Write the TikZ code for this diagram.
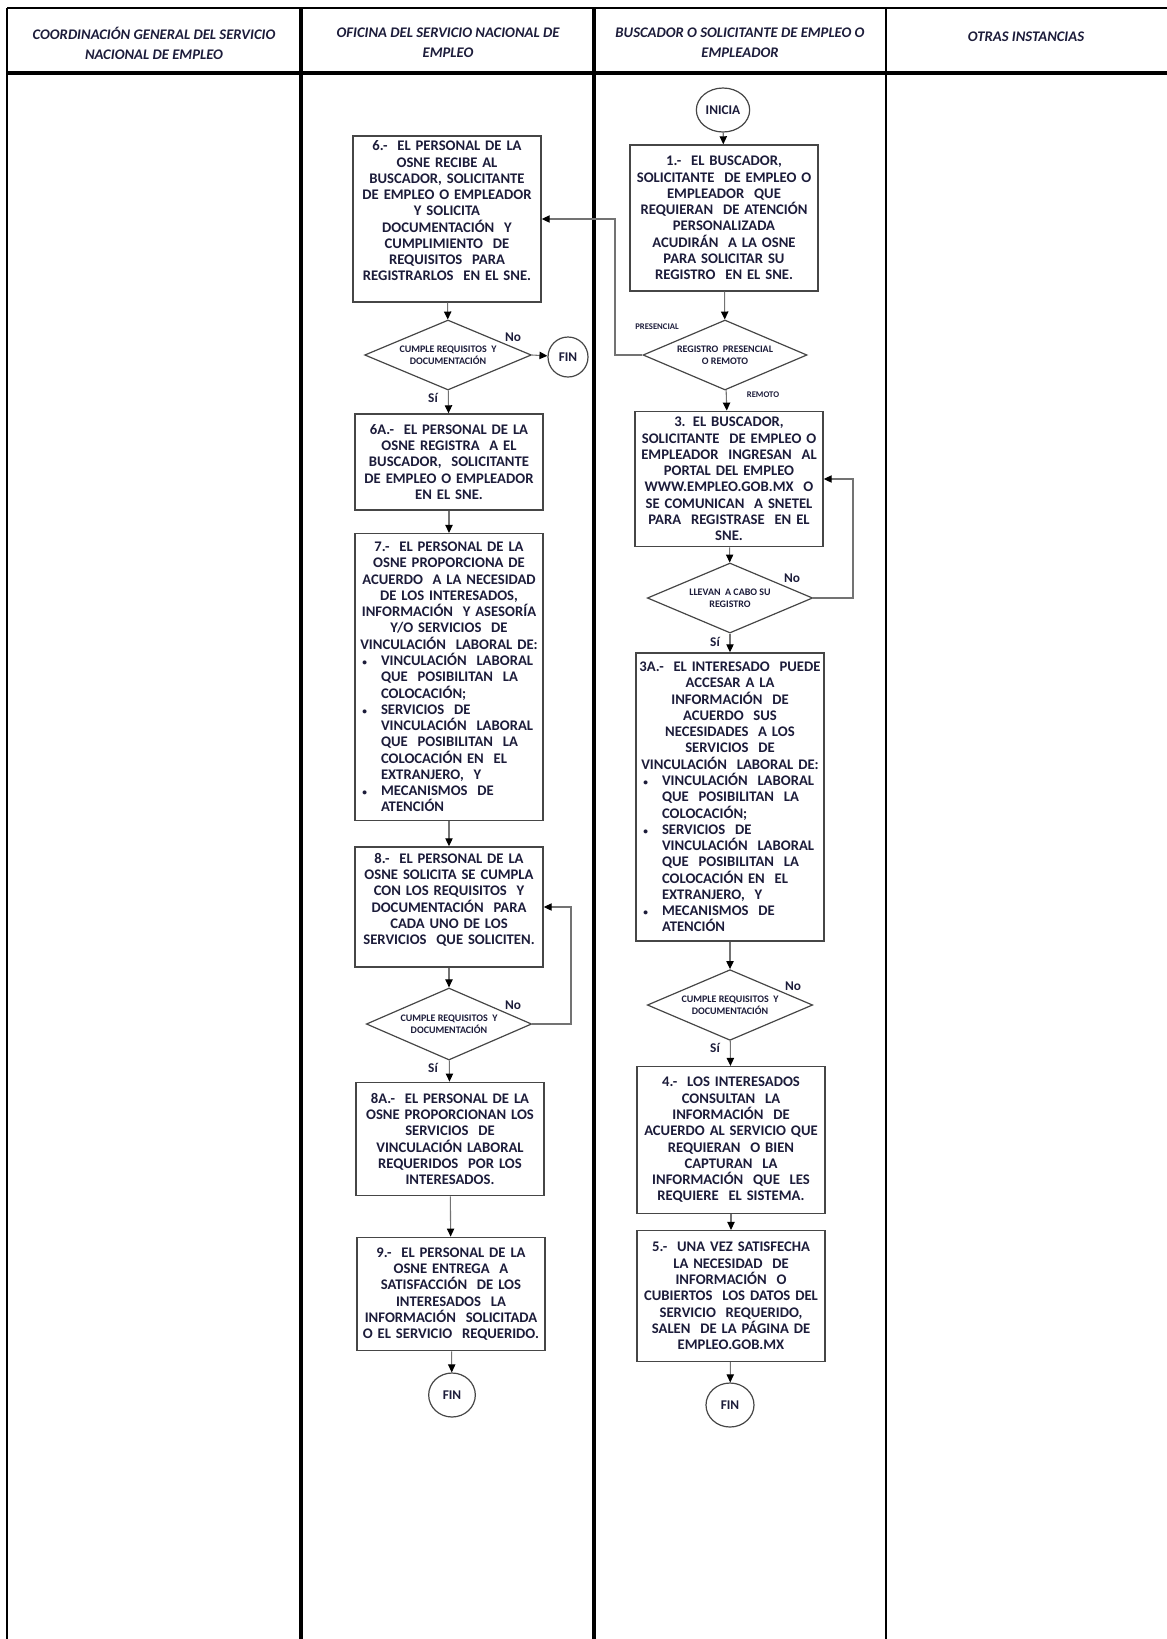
\documentclass[tikz,border=0pt]{standalone}
\usepackage{fontspec}
\setmainfont{Carlito}
\usetikzlibrary{positioning}
\usetikzlibrary{shapes.geometric}
\usetikzlibrary{arrows.meta}

\definecolor{ink}{RGB}{28,28,58}
\definecolor{frame}{RGB}{70,70,70}

% bullet lines inside the long boxes
\newcommand{\bul}[1]{\makebox[136pt][l]{\hspace{3pt}\makebox[14pt][l]{\fontsize{7}{7}\selectfont\textbullet}#1}}
\newcommand{\sig}[1]{\makebox[136pt][l]{\hspace{17pt}#1}}

\begin{document}
\begin{tikzpicture}[x=0.75pt,y=-0.75pt,
  head/.style={text=ink,align=center,font=\fontsize{11}{15}\selectfont\bfseries\itshape},
  proc/.style={draw=frame,line width=1.1pt,fill=white,text=ink,align=center,
    text width=137pt,inner xsep=2pt,inner ysep=2pt,
    font=\fontsize{11}{12.2}\selectfont\bfseries},
  cond/.style={diamond,aspect=2.4,draw=frame,line width=0.9pt,fill=white,text=ink,align=center,
    inner sep=0pt,font=\fontsize{7.5}{9}\selectfont\bfseries},
  term/.style={ellipse,draw=frame,line width=0.9pt,fill=white,text=ink,inner sep=0pt,
    font=\fontsize{10}{12}\selectfont\bfseries},
  flow/.style={draw=black!55,line width=0.8pt,-{Triangle[length=6pt,width=5.5pt,color=black]}},
  tag/.style={text=ink,font=\fontsize{10}{12}\selectfont\bfseries},
  mini/.style={text=ink,font=\fontsize{6.5}{8}\selectfont\bfseries}]
\useasboundingbox (0,0) rectangle (1167,1639);

% swimlanes
\draw[line width=1.1pt] (7,8) -- (1167,8);
\draw[line width=2.4pt] (7,73) -- (1167,73);
\draw[line width=1.5pt] (7,8) -- (7,1639);
\draw[line width=2.4pt] (301,8) -- (301,1639);
\draw[line width=2.8pt] (594,8) -- (594,1639);
\draw[line width=1.8pt] (886,8) -- (886,1639);

\node[head] (h1) at (154,43) {COORDINACIÓN GENERAL DEL SERVICIO\\NACIONAL DE EMPLEO};
\node[head] (h2) at (448,43) {OFICINA DEL SERVICIO NACIONAL DE\\EMPLEO};
\node[head] (h3) at (740,43) {BUSCADOR O SOLICITANTE DE EMPLEO O\\EMPLEADOR};
\node[head] (h4) at (1026,37) {OTRAS INSTANCIAS};

% buscador o solicitante
\node[term,minimum width=40pt,minimum height=33pt] (inicia) at (723,110) {INICIA};
\node[proc,minimum height=109.5pt] (b1) at (724,218) {1.-\ \ EL BUSCADOR,\\SOLICITANTE\ \ DE EMPLEO O\\EMPLEADOR\ \ QUE\\REQUIERAN\ \ DE ATENCIÓN\\PERSONALIZADA\\ACUDIRÁN\ \ A LA OSNE\\PARA SOLICITAR SU\\REGISTRO\ \ EN EL SNE.};
\node[cond,minimum width=123pt,minimum height=52.5pt] (d1) at (725,355) {REGISTRO\ \ PRESENCIAL\\O REMOTO};
\node[proc,minimum height=101.5pt] (b3) at (729,479) {3. EL BUSCADOR,\\SOLICITANTE\ \ DE EMPLEO O\\EMPLEADOR\ \ INGRESAN\ \ AL\\PORTAL DEL EMPLEO\\WWW.EMPLEO.GOB.MX\ \ O\\SE COMUNICAN\ \ A SNETEL\\PARA\ \ REGISTRASE\ \ EN EL\\SNE.};
\node[cond,minimum width=124pt,minimum height=52.5pt] (d3) at (730,598) {LLEVAN\ \ A CABO SU\\REGISTRO};
\node[proc,minimum height=216pt] (b3a) at (730,797) {3A.-\ \ EL INTERESADO\ \ PUEDE\\ACCESAR A LA\\INFORMACIÓN\ \ DE\\ACUERDO\ \ SUS\\NECESIDADES\ \ A LOS\\SERVICIOS\ \ DE\\VINCULACIÓN\ \ LABORAL DE:\\
  \bul{VINCULACIÓN\ \ LABORAL}\\\sig{QUE\ \ POSIBILITAN\ \ LA}\\\sig{COLOCACIÓN;}\\
  \bul{SERVICIOS\ \ DE}\\\sig{VINCULACIÓN\ \ LABORAL}\\\sig{QUE\ \ POSIBILITAN\ \ LA}\\\sig{COLOCACIÓN EN\ \ EL}\\\sig{EXTRANJERO,\ \ Y}\\
  \bul{MECANISMOS\ \ DE}\\\sig{ATENCIÓN}};
\node[cond,minimum width=124pt,minimum height=53pt] (d4) at (730,1005) {CUMPLE REQUISITOS\ \ Y\\DOCUMENTACIÓN};
\node[proc,minimum height=110pt] (b4) at (731,1140) {4.-\ \ LOS INTERESADOS\\CONSULTAN\ \ LA\\INFORMACIÓN\ \ DE\\ACUERDO AL SERVICIO QUE\\REQUIERAN\ \ O BIEN\\CAPTURAN\ \ LA\\INFORMACIÓN\ \ QUE\ \ LES\\REQUIERE\ \ EL SISTEMA.};
\node[proc,minimum height=98pt] (b5) at (731,1296) {5.-\ \ UNA VEZ SATISFECHA\\LA NECESIDAD\ \ DE\\INFORMACIÓN\ \ O\\CUBIERTOS\ \ LOS DATOS DEL\\SERVICIO\ \ REQUERIDO,\\SALEN\ \ DE LA PÁGINA DE\\EMPLEO.GOB.MX};
\node[term,minimum width=36pt,minimum height=33pt] (fin3) at (730,1405) {FIN};

% oficina del servicio nacional de empleo
\node[proc,minimum height=124.5pt] (b6) at (447,219) {6.-\ \ EL PERSONAL DE LA\\OSNE RECIBE AL\\BUSCADOR, SOLICITANTE\\DE EMPLEO O EMPLEADOR\\Y SOLICITA\\DOCUMENTACIÓN\ \ Y\\CUMPLIMIENTO\ \ DE\\REQUISITOS\ \ PARA\\REGISTRARLOS\ \ EN EL SNE.\\\mbox{}};
\node[cond,minimum width=125pt,minimum height=52.5pt] (d6) at (448,355) {CUMPLE REQUISITOS\ \ Y\\DOCUMENTACIÓN};
\node[term,minimum width=30pt,minimum height=30pt] (fin1) at (568,357) {FIN};
\node[proc,minimum height=72pt] (b6a) at (449,462) {6A.-\ \ EL PERSONAL DE LA\\OSNE REGISTRA\ \ A EL\\BUSCADOR,\ \ SOLICITANTE\\DE EMPLEO O EMPLEADOR\\EN EL SNE.};
\node[proc,minimum height=215pt] (b7) at (449,677) {7.-\ \ EL PERSONAL DE LA\\OSNE PROPORCIONA DE\\ACUERDO\ \ A LA NECESIDAD\\DE LOS INTERESADOS,\\INFORMACIÓN\ \ Y ASESORÍA\\Y/O SERVICIOS\ \ DE\\VINCULACIÓN\ \ LABORAL DE:\\
  \bul{VINCULACIÓN\ \ LABORAL}\\\sig{QUE\ \ POSIBILITAN\ \ LA}\\\sig{COLOCACIÓN;}\\
  \bul{SERVICIOS\ \ DE}\\\sig{VINCULACIÓN\ \ LABORAL}\\\sig{QUE\ \ POSIBILITAN\ \ LA}\\\sig{COLOCACIÓN EN\ \ EL}\\\sig{EXTRANJERO,\ \ Y}\\
  \bul{MECANISMOS\ \ DE}\\\sig{ATENCIÓN}};
\node[proc,minimum height=90pt] (b8) at (449,907) {8.-\ \ EL PERSONAL DE LA\\OSNE SOLICITA SE CUMPLA\\CON LOS REQUISITOS\ \ Y\\DOCUMENTACIÓN\ \ PARA\\CADA UNO DE LOS\\SERVICIOS\ \ QUE SOLICITEN.\\\mbox{}};
\node[cond,minimum width=124pt,minimum height=54pt] (d8) at (449,1024) {CUMPLE REQUISITOS\ \ Y\\DOCUMENTACIÓN};
\node[proc,minimum height=85pt] (b8a) at (450,1139) {8A.-\ \ EL PERSONAL DE LA\\OSNE PROPORCIONAN LOS\\SERVICIOS\ \ DE\\VINCULACIÓN LABORAL\\REQUERIDOS\ \ POR LOS\\INTERESADOS.};
\node[proc,minimum height=85pt] (b9) at (451,1294) {9.-\ \ EL PERSONAL DE LA\\OSNE ENTREGA\ \ A\\SATISFACCIÓN\ \ DE LOS\\INTERESADOS\ \ LA\\INFORMACIÓN\ \ SOLICITADA\\O EL SERVICIO\ \ REQUERIDO.};
\node[term,minimum width=35pt,minimum height=33pt] (fin2) at (452,1395) {FIN};

% labels
\node[mini] (pres) at (657,327) {PRESENCIAL};
\node[mini] (remo) at (763,395) {REMOTO};
\node[tag] (no1) at (513,337) {No};
\node[tag] (si1) at (433,398) {Sí};
\node[tag] (no3) at (792,578) {No};
\node[tag] (si3) at (715,642) {Sí};
\node[tag] (no4) at (793,986) {No};
\node[tag] (si4) at (715,1048) {Sí};
\node[tag] (no8) at (513,1005) {No};
\node[tag] (si8) at (433,1068) {Sí};

% connectors
\coordinate (bendA) at (615,355);
\coordinate (bendB) at (853,598);
\coordinate (bendC) at (571,1024);
\draw[flow] (inicia) -- (b1);
\draw[flow] (b1) -- (d1);
\draw[flow] (d1.west) -- (bendA) |- (b6.east);
\draw[flow] (d1) -- (b3);
\draw[flow] (b3) -- (d3);
\draw[flow] (d3.east) -- (bendB) |- (b3.east);
\draw[flow] (d3) -- (b3a);
\draw[flow] (b3a) -- (d4);
\draw[flow] (d4) -- (b4);
\draw[flow] (b4) -- (b5);
\draw[flow] (b5) -- (fin3);
\draw[flow] (b6) -- (d6);
\draw[flow] (d6.east) -- (fin1);
\draw[flow] (d6) -- (b6a);
\draw[flow] (b6a) -- (b7);
\draw[flow] (b7) -- (b8);
\draw[flow] (b8) -- (d8);
\draw[flow] (d8.east) -- (bendC) |- (b8.east);
\draw[flow] (d8) -- (b8a);
\draw[flow] (b8a) -- (b9);
\draw[flow] (b9) -- (fin2);
\end{tikzpicture}
\end{document}
